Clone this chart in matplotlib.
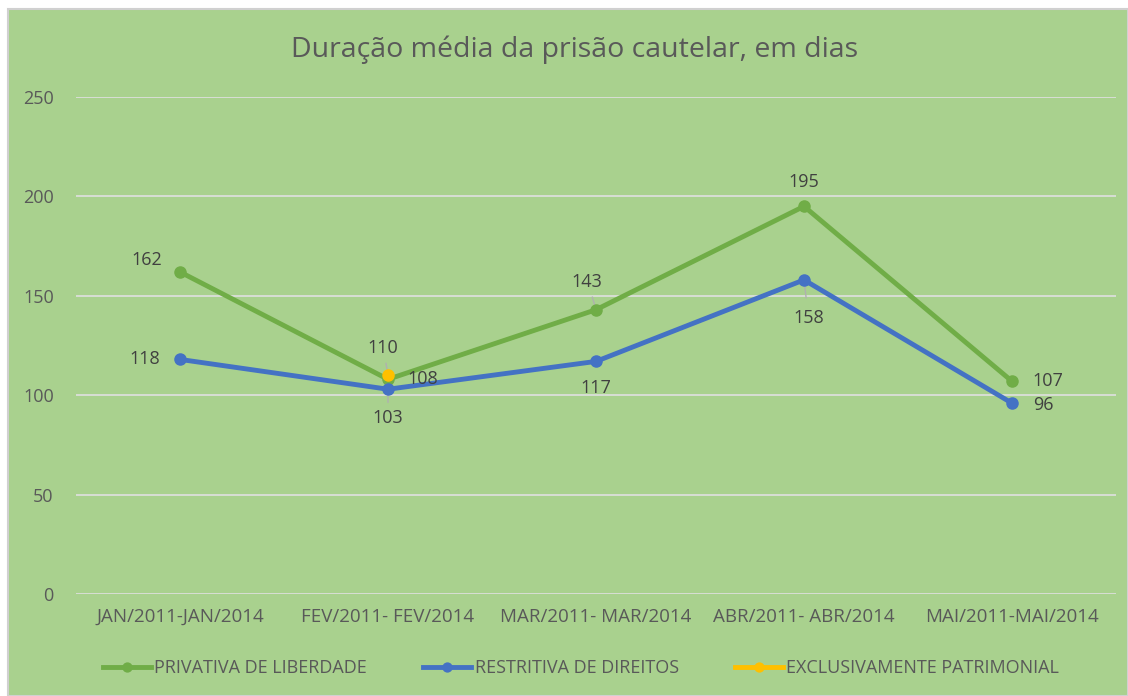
import numpy as np
import matplotlib
matplotlib.use("Agg")
import matplotlib.pyplot as plt
from matplotlib.patches import Rectangle

plt.rcParams['font.family'] = ['Open Sans', 'DejaVu Sans']

# Data
periods = ["JAN/2011-JAN/2014", "FEV/2011- FEV/2014", "MAR/2011- MAR/2014",
           "ABR/2011- ABR/2014", "MAI/2011-MAI/2014"]
privativa = [162, 108, 143, 195, 107]
restritiva = [118, 103, 117, 158, 96]
patrimonial = [np.nan, 110, np.nan, np.nan, np.nan]

# label offsets in pixels (dx, dy)
off_priv = [(-33, 12), (35, 0), (-9, 28), (0, 24), (36, 0)]
off_rest = [(-35, 0), (0, -29), (0, -27), (5, -38), (31, -2)]
off_patr = [None, (-5, 27), None, None, None]

bg = "#a9d18e"
txt = "#595959"
c_priv = "#70ad47"
c_rest = "#4472c4"
c_patr = "#ffc000"

fig = plt.figure(figsize=(11.28, 6.96), dpi=100)
fig.patch.set_facecolor("white")
fig.add_artist(Rectangle((8 / 1128, 0), 1 - 8 / 1128, 1 - 9 / 696,
                         transform=fig.transFigure, facecolor=bg,
                         edgecolor="#d0d0d0", linewidth=1.5, zorder=-10))

ax = fig.add_axes([76 / 1128, 1 - 594 / 696, 1040 / 1128, (594 - 97) / 696])
ax.set_facecolor("none")

x = np.arange(len(periods))
ax.plot(x, privativa, color=c_priv, lw=3.5, marker="o", ms=8, label="PRIVATIVA DE LIBERDADE", zorder=3)
ax.plot(x, restritiva, color=c_rest, lw=3.5, marker="o", ms=8, label="RESTRITIVA DE DIREITOS", zorder=3)
ax.plot(x, patrimonial, color=c_patr, lw=3.5, marker="o", ms=8, label="EXCLUSIVAMENTE PATRIMONIAL", zorder=4)

def labels(vals, offs):
    for xi, v, o in zip(x, vals, offs):
        if o is None or np.isnan(v):
            continue
        ax.annotate(f"{v:g}", (xi, v), xytext=o, textcoords="offset pixels",
                    ha="center", va="center", fontsize=13, color="#404040", zorder=5)

labels(privativa, off_priv)
labels(restritiva, off_rest)
labels(patrimonial, off_patr)

# leader lines
for xi, v, (dx, dy) in [(2, 143, (-9, 28)), (3, 158, (5, -38)), (1, 110, (-5, 27)), (1, 103, (0, -29))]:
    ax.annotate("", (xi, v), xytext=(dx * 0.5, dy * 0.55), textcoords="offset pixels",
                arrowprops=dict(arrowstyle="-", color="#b0b0b0", lw=1), zorder=2)

ax.set_xlim(-0.5, len(periods) - 0.5)
ax.set_ylim(0, 250)
ax.set_yticks(range(0, 251, 50))
ax.set_xticks(x)
ax.set_xticklabels(periods)
ax.grid(axis="y", color="#e0e0e0", lw=1.2)
ax.set_axisbelow(True)
for s in ax.spines.values():
    s.set_visible(False)
ax.tick_params(length=0, colors=txt, labelsize=13)
ax.tick_params(axis="y", pad=16)
ax.tick_params(axis="x", pad=10)
for t in ax.get_xticklabels():
    t.set_fontsize(13.5)

fig.text(575 / 1128, 1 - 50 / 696, "Duração média da prisão cautelar, em dias",
         ha="center", va="center", fontsize=20.5, color=txt)

fig.legend(loc="center", bbox_to_anchor=(581 / 1128, 1 - 668 / 696), ncol=3,
           frameon=False, fontsize=13, labelcolor=txt, handlelength=2.65,
           handletextpad=0.2, columnspacing=3.1, markerscale=0.8)

fig.savefig("out.png", dpi=100, facecolor=fig.get_facecolor())
